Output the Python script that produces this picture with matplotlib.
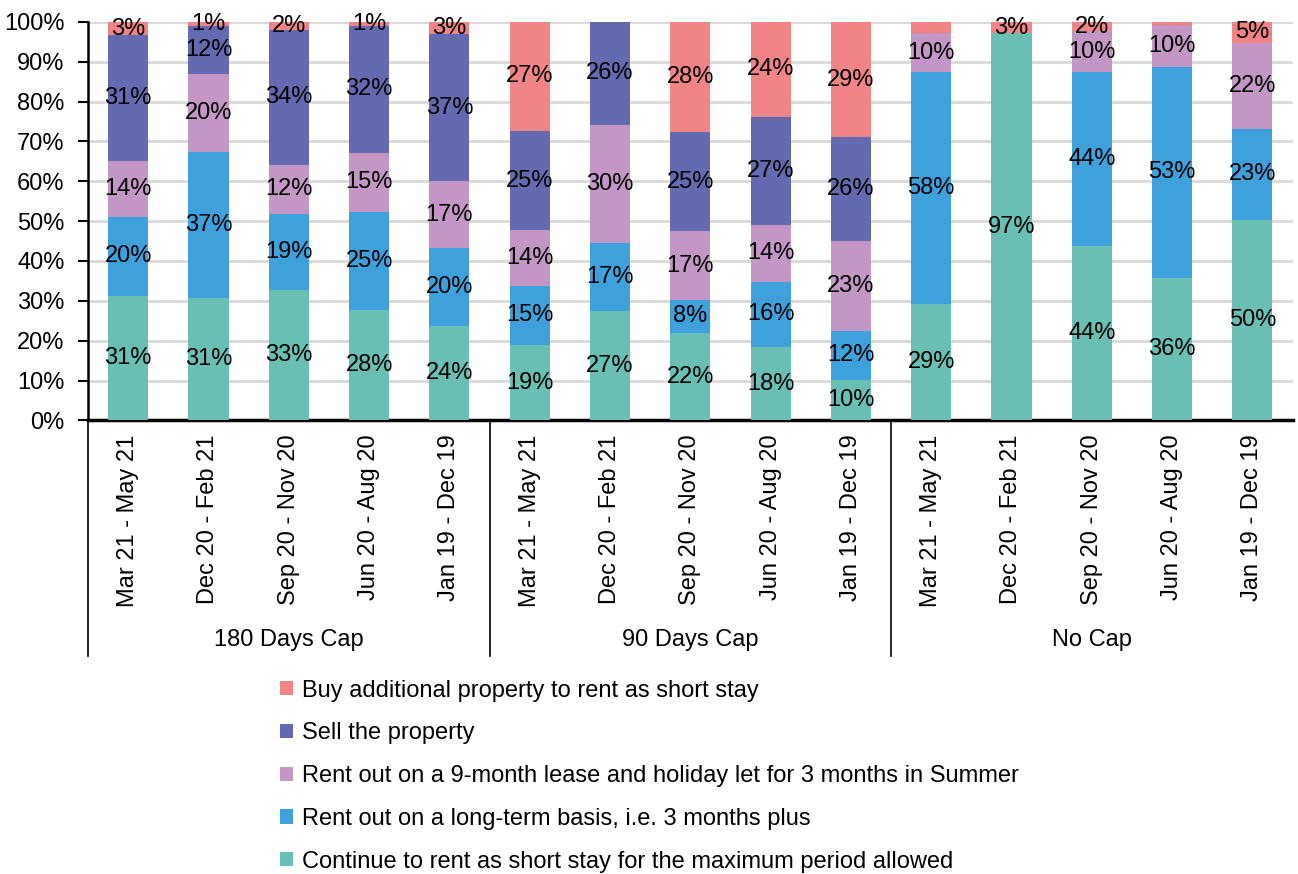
import numpy as np
import matplotlib
matplotlib.use("Agg")
import matplotlib.pyplot as plt
from matplotlib.ticker import PercentFormatter

plt.rcParams['font.family'] = ['Liberation Sans', 'DejaVu Sans']

# Data (percent of respondents)
groups = ["180 Days Cap", "90 Days Cap", "No Cap"]
periods = ["Mar 21 - May 21", "Dec 20 - Feb 21", "Sep 20 - Nov 20",
           "Jun 20 - Aug 20", "Jan 19 - Dec 19"]

series_names = [
    "Continue to rent as short stay for the maximum period allowed",
    "Rent out on a long-term basis, i.e. 3 months plus",
    "Rent out on a 9-month lease and holiday let for 3 months in Summer",
    "Sell the property",
    "Buy additional property to rent as short stay",
]

continue_short = [31.3, 30.8, 32.8, 27.6, 23.6,
                  19.0, 27.4, 21.9, 18.4, 10.2,
                  29.2, 97.1, 43.8, 35.8, 50.3]
long_term = [19.8, 36.6, 19.0, 24.8, 19.6,
             14.8, 17.1, 8.4, 16.4, 12.2,
             58.3, 0.0, 43.7, 52.9, 22.9]
nine_month = [14.1, 19.6, 12.3, 14.8, 16.8,
              13.9, 29.7, 17.1, 14.2, 22.7,
              9.6, 0.0, 10.1, 10.4, 21.6]
sell = [31.4, 12.0, 33.9, 31.8, 37.0,
        24.9, 25.8, 24.9, 27.2, 25.9,
        0.0, 0.0, 0.0, 0.0, 0.0]
buy_more = [3.4, 1.0, 2.0, 1.0, 3.0,
            27.4, 0.0, 27.7, 23.8, 29.0,
            2.9, 2.9, 2.4, 0.9, 5.2]

# labels that the original chart leaves out (series index, bar index)
hidden_labels = [(4, 10), (4, 13)]

colors = ["#69BFB3", "#3FA1DC", "#C496C5", "#646AAF", "#F08486"]

all_series = [continue_short, long_term, nine_month, sell, buy_more]
tick_labels = periods * len(groups)
x = np.arange(len(tick_labels))

fig = plt.figure(figsize=(12.98, 8.74), dpi=100)
ax = fig.add_axes([0.0678, 0.519, 0.928, 0.456])

bottom = np.zeros(len(x))
bars = []
for i, (vals, name, col) in enumerate(zip(all_series, series_names, colors)):
    vals = np.array(vals)
    b = ax.bar(x, vals, width=0.5, bottom=bottom, color=col, label=name, zorder=3)
    bars.append(b)
    for j, v in enumerate(vals):
        if v < 0.5 or (i, j) in hidden_labels:
            continue
        ax.text(x[j], bottom[j] + v / 2, f"{round(v)}%", ha="center", va="center",
                fontsize=17, color="black", zorder=4)
    bottom += vals

ax.set_xlim(-0.5, len(x) - 0.5)
ax.set_ylim(0, 100)
ax.set_yticks(np.arange(0, 101, 10))
ax.yaxis.set_major_formatter(PercentFormatter(decimals=0))
ax.tick_params(axis="y", labelsize=17, length=7, width=1.5, pad=10)
ax.grid(axis="y", color="#D9D9D9", linewidth=2, zorder=0)
ax.set_axisbelow(True)

ax.set_xticks(x)
ax.set_xticklabels(tick_labels, rotation=90, fontsize=17)
ax.tick_params(axis="x", length=0, pad=10)

for s in ["top", "right"]:
    ax.spines[s].set_visible(False)
ax.spines["bottom"].set_linewidth(2.5)
ax.spines["left"].set_linewidth(1.8)

# group separators and group names below the tick labels
trans = ax.get_xaxis_transform()
for sep in [-0.5, 4.5, 9.5]:
    ax.plot([sep, sep], [0, -0.59], color="black", lw=1.2, transform=trans, clip_on=False)
for k, g in enumerate(groups):
    ax.text(k * 5 + 2, -0.552, g, ha="center", va="center", fontsize=17, transform=trans)

handles = bars[::-1]
labels = series_names[::-1]
fig.legend(handles, labels, loc="upper left", bbox_to_anchor=(0.207, 0.236),
           frameon=False, fontsize=17, handlelength=0.55, handleheight=0.55,
           handletextpad=0.35, labelspacing=0.88, borderpad=0)

plt.savefig("out.png", dpi=100)
